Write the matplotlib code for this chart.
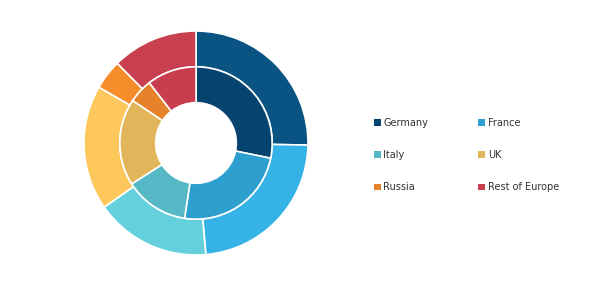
import matplotlib.pyplot as plt
from matplotlib.patches import Patch

regions = ["Germany", "France", "Italy", "UK", "Russia", "Rest of Europe"]
outer_share = [25.3, 23.3, 16.7, 18.0, 4.3, 12.4]
inner_share = [28.2, 24.2, 13.6, 18.4, 5.1, 10.5]

outer_colors = ["#0a5484", "#36b3e6", "#63d0dc", "#fdc75c", "#f68c2a", "#c8404f"]
inner_colors = ["#064470", "#2c9fce", "#55b8c4", "#e2b55a", "#e5822a", "#c93e4e"]

W, H = 590, 281
fig = plt.figure(figsize=(W / 100, H / 100), dpi=100)

# pie axes placed in pixel terms: center (196, 143), radius 112
cx, cy, R = 196, 143, 112
ax = fig.add_axes([(cx - R) / W, (H - cy - R) / H, 2 * R / W, 2 * R / H])

wedge = dict(edgecolor="white", linewidth=1.2)
ax.pie(outer_share, radius=1.0, colors=outer_colors, startangle=90,
       counterclock=False, wedgeprops=dict(width=0.32, **wedge))
ax.pie(inner_share, radius=0.68, colors=inner_colors, startangle=90,
       counterclock=False, wedgeprops=dict(width=0.32, **wedge))
ax.set_xlim(-1, 1)
ax.set_ylim(-1, 1)
ax.set_aspect("equal")
ax.axis("off")

# legend, two columns
handles = [Patch(facecolor=c, edgecolor="none") for c in inner_colors]
order = [0, 2, 4, 1, 3, 5]
fig.legend([handles[i] for i in order], [regions[i] for i in order],
           ncol=2, frameon=False, loc="upper left",
           bbox_to_anchor=(365 / W, 1 - 109 / H),
           fontsize=7, handlelength=0.7, handleheight=0.7, handletextpad=0.3,
           labelspacing=2.3, columnspacing=5.1, labelcolor="#333333")

fig.savefig("out.png", dpi=100, facecolor="white")
